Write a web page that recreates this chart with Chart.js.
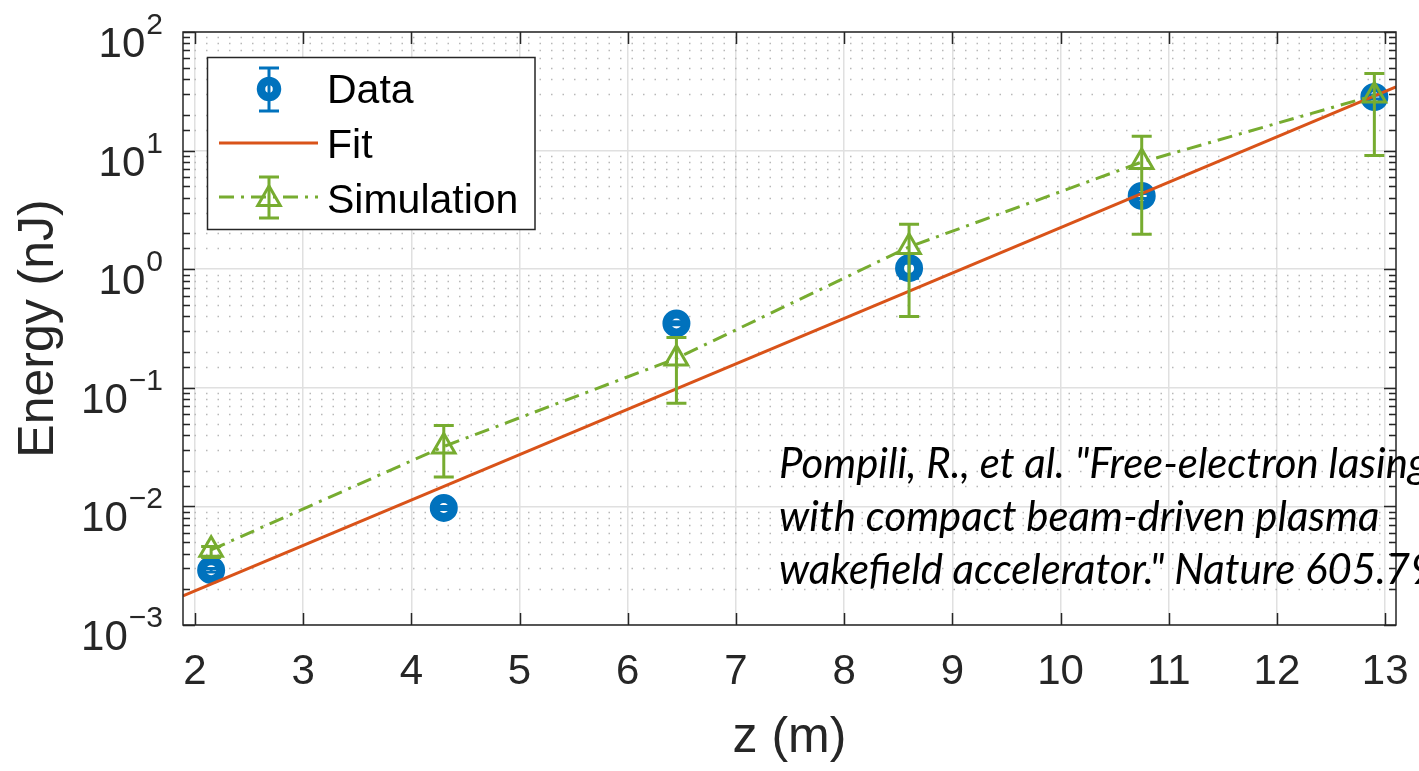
<!DOCTYPE html>
<html lang="en">
<head>
<meta charset="UTF-8">
<title>Energy vs z</title>
<script src="https://cdn.jsdelivr.net/npm/chart.js@4"></script>
<style>
    body { margin: 0; background: #fff; }
    #wrap { position: relative; width: 1419px; height: 771px; }
</style>
</head>
<body>
<div id="wrap"><canvas id="myChart"></canvas></div>
<script>
// stations along the undulator (m)
const zStations = [2.15, 4.3, 6.45, 8.6, 10.75, 12.9];

// measured energy (nJ) and its error bar limits
const dataEnergy = [0.0029, 0.0097, 0.349, 1.02, 4.15, 28.3];
const dataLow    = [0.0028, 0.0094, 0.34, 0.84, 3.95, 27.2];
const dataHigh   = [0.0030, 0.0100, 0.36, 1.12, 4.35, 29.4];

// simulated energy (nJ) and spread
const simEnergy = [0.0043, 0.032, 0.177, 1.54, 8.0, 29.2];
const simLow    = [0.0037, 0.0177, 0.074, 0.40, 1.97, 9.1];
const simHigh   = [0.0046, 0.048, 0.266, 2.39, 13.2, 44.6];

// exponential fit, taken at the ends of the z range
const fitZ = [1.89, 13.1];
const fitEnergy = [0.00176, 34.5];

const xTickValues = [2, 3, 4, 5, 6, 7, 8, 9, 10, 11, 12, 13];
const yDecades = [1e-3, 1e-2, 1e-1, 1, 10, 100];
const yExponents = ['\u22123', '\u22122', '\u22121', '0', '1', '2'];

const citation = [
    'Pompili, R., et al. "Free-electron lasing',
    'with compact beam-driven plasma',
    'wakefield accelerator." Nature 605.7911 (2022): 659-662.'
];

const blue = '#0072BD';
const orange = '#D95319';
const green = '#77AC30';
const axisColor = '#262626';
const gridMajor = '#e0e0e0';
const gridMinor = '#b8b8b8';
const simDash = [15, 7, 3, 7];

Chart.defaults.font.family = '"Liberation Sans", Arial, sans-serif';
Chart.defaults.color = axisColor;

function isDecade(v) {
    const l = Math.log10(v);
    return Math.abs(l - Math.round(l)) < 1e-9;
}

function toPoints(xs, ys) {
    return xs.map((x, i) => ({ x: x, y: ys[i] }));
}

function drawTriangle(ctx, x, y, r) {
    // same geometry as Chart.js 'triangle' point style
    ctx.beginPath();
    let rad = 0;
    ctx.moveTo(x + Math.sin(rad) * r, y - Math.cos(rad) * r);
    rad += Math.PI * 2 / 3;
    ctx.lineTo(x + Math.sin(rad) * r, y - Math.cos(rad) * r);
    rad += Math.PI * 2 / 3;
    ctx.lineTo(x + Math.sin(rad) * r, y - Math.cos(rad) * r);
    ctx.closePath();
    ctx.stroke();
}

function drawErrorBar(ctx, x, yTop, yBottom, capHalf) {
    ctx.beginPath();
    ctx.moveTo(x, yTop); ctx.lineTo(x, yBottom);
    ctx.moveTo(x - capHalf, yTop); ctx.lineTo(x + capHalf, yTop);
    ctx.moveTo(x - capHalf, yBottom); ctx.lineTo(x + capHalf, yBottom);
    ctx.stroke();
}

// dotted minor grid on the log axis
const minorGrid = {
    id: 'minorGrid',
    beforeDatasetsDraw(chart) {
        const { ctx, chartArea: a, scales: { y } } = chart;
        ctx.save();
        ctx.strokeStyle = gridMinor;
        ctx.lineWidth = 1.5;
        ctx.setLineDash([1.5, 10]);
        ctx.beginPath();
        y.ticks.forEach(t => {
            if (isDecade(t.value)) return;
            const py = Math.round(y.getPixelForValue(t.value)) + 0.5;
            ctx.moveTo(a.left, py);
            ctx.lineTo(a.right, py);
        });
        ctx.stroke();
        ctx.restore();
    }
};

// vertical error bars, drawn right after their own dataset
const errorBars = {
    id: 'errorBars',
    afterDatasetDraw(chart, args) {
        const ds = chart.data.datasets[args.index];
        if (!ds.errLow) return;
        const { ctx, scales: { x, y } } = chart;
        ctx.save();
        ctx.strokeStyle = ds.borderColor;
        ctx.lineWidth = 3;
        ds.data.forEach((p, i) => {
            drawErrorBar(ctx, x.getPixelForValue(p.x),
                y.getPixelForValue(ds.errHigh[i]), y.getPixelForValue(ds.errLow[i]), 10);
        });
        ctx.restore();
    }
};

// box, inward ticks and the 10^n labels
const axisFrame = {
    id: 'axisFrame',
    afterDatasetsDraw(chart) {
        const { ctx, chartArea: a, scales: { x, y } } = chart;
        ctx.save();
        ctx.strokeStyle = axisColor;
        ctx.lineWidth = 1.5;
        ctx.beginPath();
        y.ticks.forEach(t => {
            const py = Math.round(y.getPixelForValue(t.value)) + 0.5;
            const len = isDecade(t.value) ? 12 : 7;
            ctx.moveTo(a.left, py); ctx.lineTo(a.left + len, py);
            ctx.moveTo(a.right, py); ctx.lineTo(a.right - len, py);
        });
        x.ticks.forEach(t => {
            const px = Math.round(x.getPixelForValue(t.value)) + 0.5;
            ctx.moveTo(px, a.bottom); ctx.lineTo(px, a.bottom - 12);
            ctx.moveTo(px, a.top); ctx.lineTo(px, a.top + 12);
        });
        ctx.stroke();
        ctx.strokeRect(a.left, a.top, a.right - a.left, a.bottom - a.top);

        ctx.fillStyle = axisColor;
        ctx.textBaseline = 'alphabetic';
        ctx.textAlign = 'left';
        const rightEdge = a.left - 20;
        yDecades.forEach((v, i) => {
            const py = y.getPixelForValue(v);
            ctx.font = '30px "Liberation Sans", Arial, sans-serif';
            const wExp = ctx.measureText(yExponents[i]).width;
            ctx.fillText(yExponents[i], rightEdge - wExp, py + 2);
            ctx.font = '42px "Liberation Sans", Arial, sans-serif';
            const wBase = ctx.measureText('10').width;
            ctx.fillText('10', rightEdge - wExp - wBase - 1, py + 25);
        });
        ctx.restore();
    }
};

const legendBox = {
    id: 'legendBox',
    afterDraw(chart) {
        const ctx = chart.ctx;
        const sets = chart.data.datasets;
        const dsData = sets.find(d => d.key === 'data');
        const dsFit = sets.find(d => d.key === 'fit');
        const dsSim = sets.find(d => d.key === 'sim');
        ctx.save();
        ctx.fillStyle = '#fff';
        ctx.fillRect(207.5, 57.5, 327.5, 172);
        ctx.strokeStyle = axisColor;
        ctx.lineWidth = 1.5;
        ctx.strokeRect(207.5, 57.5, 327.5, 172);

        const symX = 269, lineX0 = 219, lineX1 = 318, textX = 327;

        // Data: circle with error bar
        ctx.lineWidth = 8.5;
        ctx.strokeStyle = blue;
        ctx.fillStyle = '#fff';
        ctx.beginPath();
        ctx.arc(symX, 89, 8, 0, Math.PI * 2);
        ctx.fill(); ctx.stroke();
        ctx.lineWidth = 3;
        drawErrorBar(ctx, symX, 68, 111, 10);

        // Fit: solid line
        ctx.strokeStyle = orange;
        ctx.beginPath();
        ctx.moveTo(lineX0, 143); ctx.lineTo(lineX1, 143);
        ctx.stroke();

        // Simulation: dash-dot with triangle and error bar
        ctx.strokeStyle = green;
        ctx.setLineDash(simDash);
        ctx.beginPath();
        ctx.moveTo(lineX0, 197); ctx.lineTo(lineX1, 197);
        ctx.stroke();
        ctx.setLineDash([]);
        drawTriangle(ctx, symX, 199, 13);
        drawErrorBar(ctx, symX, 177, 218, 10);

        ctx.fillStyle = '#000';
        ctx.font = '41px "Liberation Sans", Arial, sans-serif';
        ctx.textAlign = 'left';
        ctx.textBaseline = 'alphabetic';
        ctx.fillText(dsData.label, textX, 103);
        ctx.fillText(dsFit.label, textX, 158);
        ctx.fillText(dsSim.label, textX, 213);
        ctx.restore();
    }
};

// reference note, sized so the second line runs to just short of the right axis
const citationText = {
    id: 'citationText',
    afterDraw(chart) {
        const ctx = chart.ctx;
        const x0 = 779;
        const lineSpan = 600;
        ctx.save();
        ctx.font = 'italic 40px Lato, "Noto Sans", sans-serif';
        const size = 40 * lineSpan / ctx.measureText(citation[1]).width;
        ctx.font = 'italic ' + size.toFixed(1) + 'px Lato, "Noto Sans", sans-serif';
        ctx.fillStyle = '#000';
        ctx.textAlign = 'left';
        ctx.textBaseline = 'alphabetic';
        citation.forEach((line, i) => ctx.fillText(line, x0, 478 + i * 53));
        ctx.restore();
    }
};

const config = {
    type: 'scatter',
    data: {
        datasets: [
            {
                key: 'sim',
                label: 'Simulation',
                data: toPoints(zStations, simEnergy),
                errLow: simLow,
                errHigh: simHigh,
                showLine: true,
                borderColor: green,
                backgroundColor: 'rgba(0,0,0,0)',
                borderWidth: 3,
                borderDash: simDash,
                pointStyle: 'triangle',
                pointRadius: 13,
                pointBorderWidth: 3,
                order: 0
            },
            {
                key: 'fit',
                label: 'Fit',
                data: toPoints(fitZ, fitEnergy),
                showLine: true,
                borderColor: orange,
                borderWidth: 3,
                pointRadius: 0,
                order: 1
            },
            {
                key: 'data',
                label: 'Data',
                data: toPoints(zStations, dataEnergy),
                errLow: dataLow,
                errHigh: dataHigh,
                showLine: false,
                borderColor: blue,
                backgroundColor: '#fff',
                pointStyle: 'circle',
                pointRadius: 9.5,
                pointBorderWidth: 9,
                order: 2
            }
        ]
    },
    options: {
        responsive: true,
        maintainAspectRatio: false,
        devicePixelRatio: 1,
        animation: false,
        events: [],
        layout: { padding: { top: 32, right: 23, left: 0, bottom: 0 } },
        plugins: {
            legend: { display: false },
            tooltip: { enabled: false }
        },
        scales: {
            x: {
                type: 'linear',
                min: fitZ[0],
                max: fitZ[1],
                afterBuildTicks: s => { s.ticks = xTickValues.map(v => ({ value: v })); },
                afterFit: s => { s.height = 146; s.paddingLeft = 0; s.paddingRight = 0; },
                grid: { color: gridMajor, lineWidth: 1.5, drawTicks: false },
                border: { display: false },
                ticks: {
                    autoSkip: false,
                    maxRotation: 0,
                    padding: 22,
                    color: axisColor,
                    font: { size: 42, lineHeight: 1.2 }
                },
                title: {
                    display: true,
                    text: 'z (m)',
                    color: axisColor,
                    font: { size: 50, lineHeight: 1.2 },
                    padding: { top: 0, bottom: 3 }
                }
            },
            y: {
                type: 'logarithmic',
                min: yDecades[0],
                max: yDecades[yDecades.length - 1],
                afterFit: s => { s.width = 183; s.paddingTop = 0; s.paddingBottom = 0; },
                grid: {
                    color: c => (c.tick && isDecade(c.tick.value)) ? gridMajor : 'rgba(0,0,0,0)',
                    lineWidth: 1.5,
                    drawTicks: false
                },
                border: { display: false },
                ticks: { display: false },
                title: {
                    display: true,
                    text: 'Energy (nJ)',
                    color: axisColor,
                    font: { size: 50, lineHeight: 1.2 },
                    padding: { top: 9, bottom: 0 }
                }
            }
        }
    },
    plugins: [minorGrid, errorBars, axisFrame, legendBox, citationText]
};

const myChart = new Chart(document.getElementById('myChart'), config);
</script>
</body>
</html>
